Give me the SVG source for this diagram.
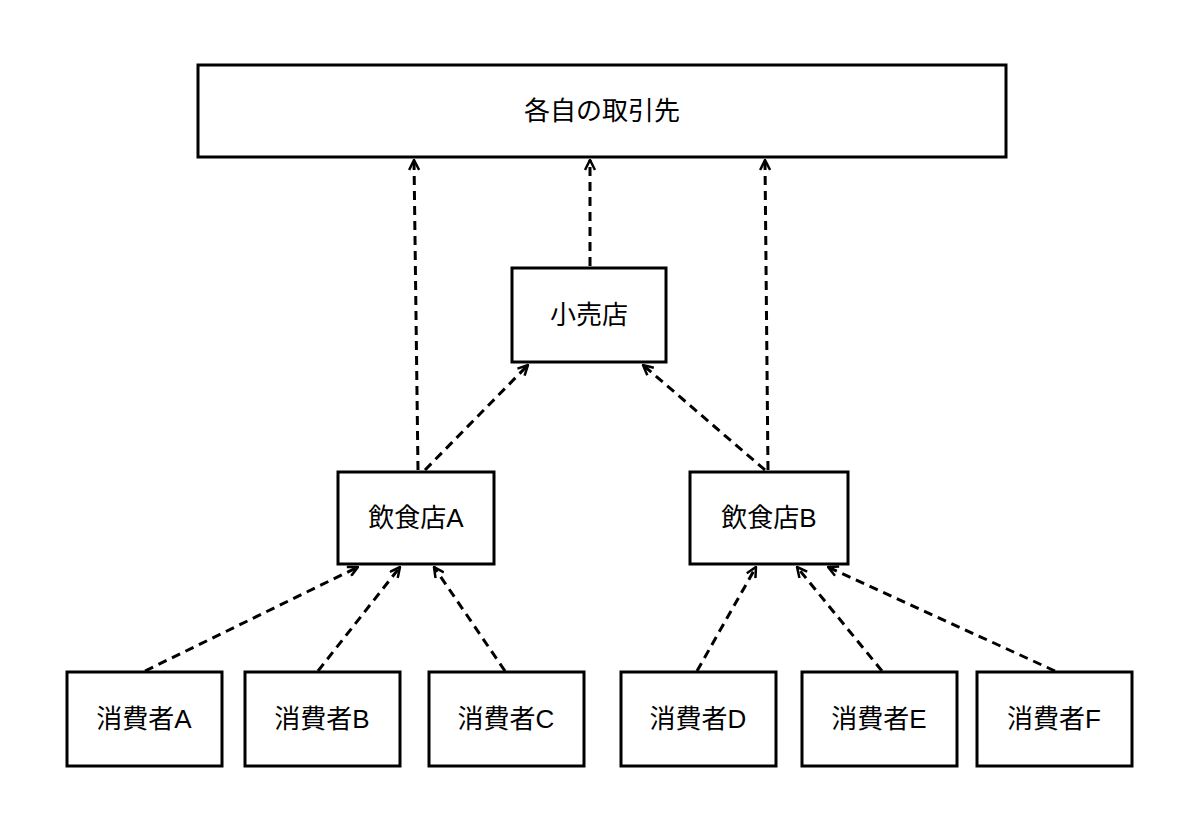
<svg xmlns="http://www.w3.org/2000/svg" width="1200" height="834" viewBox="0 0 1200 834">
<style>
.n{fill:#fff;stroke:#000;stroke-width:3}
.t{font-family:"Liberation Sans","Noto Sans CJK JP",sans-serif;font-size:26px;text-anchor:middle;dominant-baseline:central;fill:#000}
.c{stroke:#000;stroke-width:3;stroke-dasharray:9,6;fill:none;marker-end:url(#a)}
</style>
<defs><marker id="a" viewBox="0 0 12 12" refX="11" refY="6" markerWidth="12" markerHeight="12" markerUnits="userSpaceOnUse" orient="auto"><path d="M1,1 L11,6 L1,11" fill="none" stroke="#000" stroke-width="2.5"/></marker></defs>
<rect width="1200" height="834" fill="#fff"/>
<g id="top"><rect class="n" x="198" y="65" width="808" height="92"/><text class="t" x="602" y="111">各自の取引先</text></g>
<g id="retail"><rect class="n" x="512" y="268" width="154" height="94"/><text class="t" x="589" y="315">小売店</text></g>
<g id="restA"><rect class="n" x="338" y="472" width="156" height="92"/><text class="t" x="416" y="518">飲食店A</text></g>
<g id="restB"><rect class="n" x="690" y="472" width="158" height="92"/><text class="t" x="769" y="518">飲食店B</text></g>
<g id="cA"><rect class="n" x="67" y="672" width="155" height="94"/><text class="t" x="144" y="719">消費者A</text></g>
<g id="cB"><rect class="n" x="245" y="672" width="155" height="94"/><text class="t" x="322" y="719">消費者B</text></g>
<g id="cC"><rect class="n" x="429" y="672" width="155" height="94"/><text class="t" x="506" y="719">消費者C</text></g>
<g id="cD"><rect class="n" x="621" y="672" width="155" height="94"/><text class="t" x="698" y="719">消費者D</text></g>
<g id="cE"><rect class="n" x="802" y="672" width="155" height="94"/><text class="t" x="879" y="719">消費者E</text></g>
<g id="cF"><rect class="n" x="977" y="672" width="155" height="94"/><text class="t" x="1054" y="719">消費者F</text></g>
<g id="connectors">
<line class="c" x1="418" y1="470" x2="414" y2="160"/>
<line class="c" x1="425" y1="470" x2="528" y2="365"/>
<line class="c" x1="590" y1="266" x2="590" y2="160"/>
<line class="c" x1="765" y1="470" x2="643" y2="365"/>
<line class="c" x1="768" y1="470" x2="765" y2="160"/>
<line class="c" x1="145" y1="671" x2="358" y2="567"/>
<line class="c" x1="318" y1="671" x2="400" y2="567"/>
<line class="c" x1="505" y1="671" x2="434" y2="567"/>
<line class="c" x1="697" y1="671" x2="756" y2="567"/>
<line class="c" x1="882" y1="671" x2="797" y2="567"/>
<line class="c" x1="1055" y1="671" x2="828" y2="567"/>
</g>
</svg>
